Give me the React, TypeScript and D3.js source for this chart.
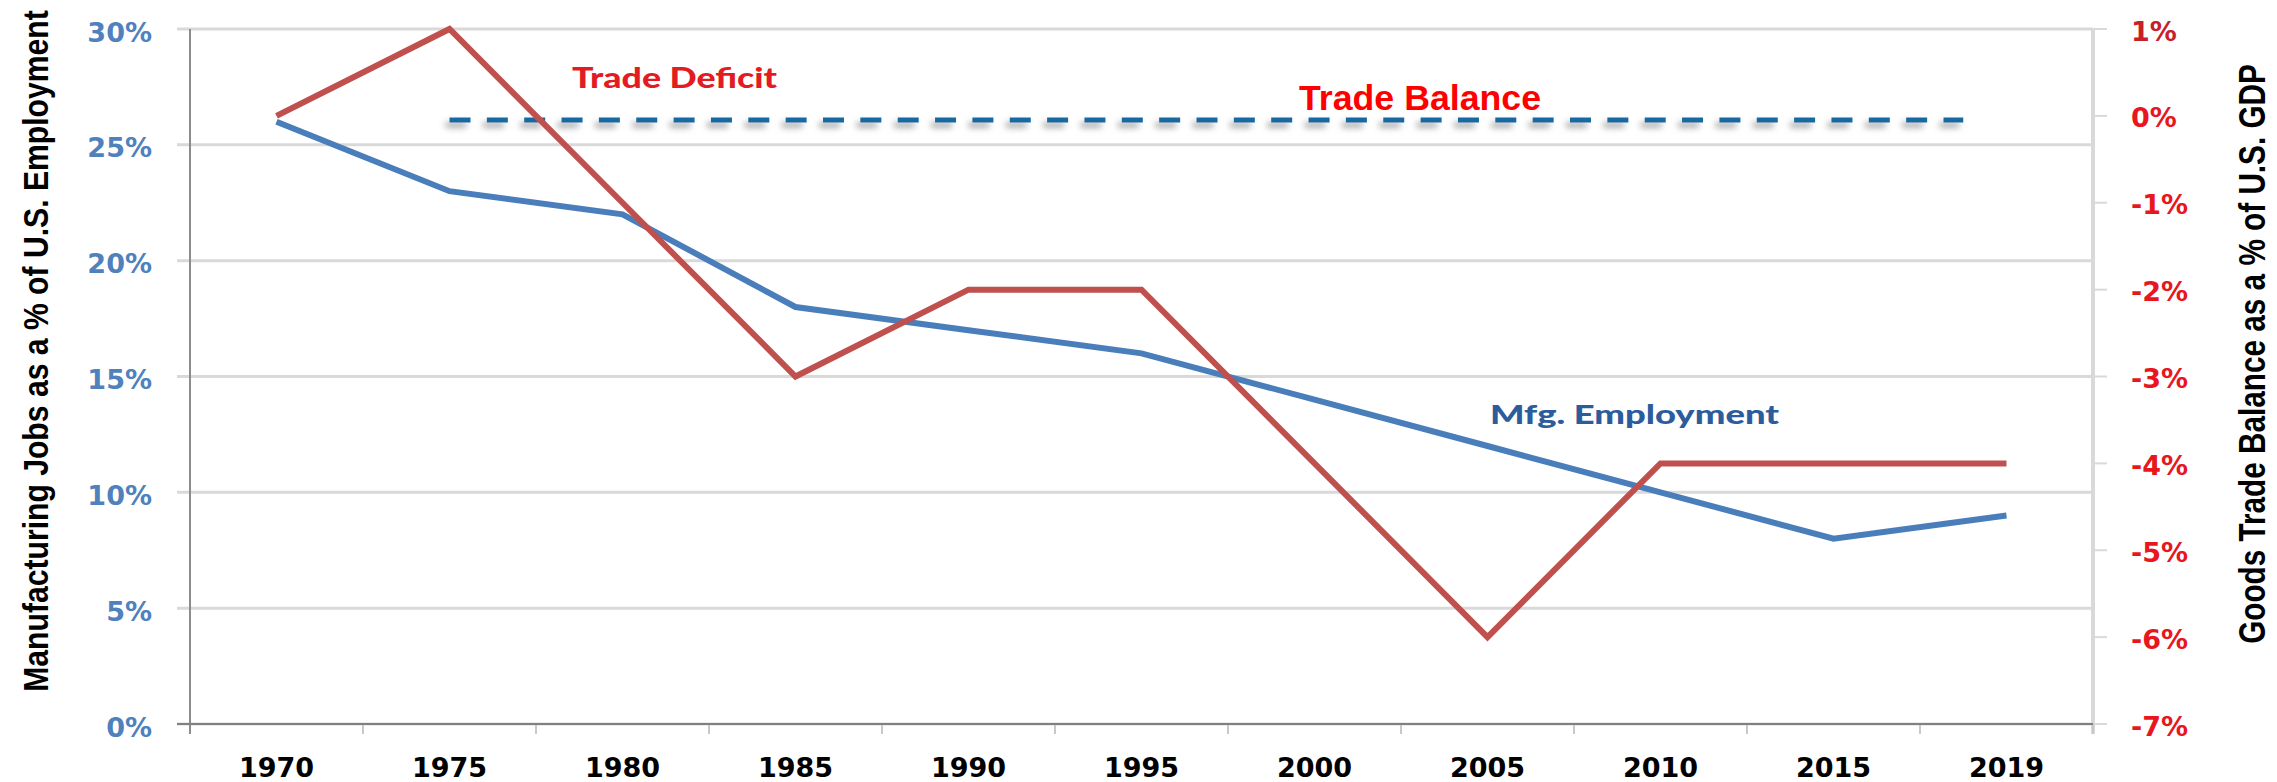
import { useEffect, useRef } from "react";
import * as d3 from "d3";

const years = ["1970", "1975", "1980", "1985", "1990", "1995", "2000", "2005", "2010", "2015", "2019"];
const mfgEmployment = [26, 23, 22, 18, 17, 16, 14, 12, 10, 8, 9];
const tradeBalance = [0, 1, -1, -3, -2, -2, -4, -6, -4, -4, -4];
const leftTicks = [0, 5, 10, 15, 20, 25, 30];
const rightTicks = [1, 0, -1, -2, -3, -4, -5, -6, -7];

export default function App() {
  const ref = useRef<SVGSVGElement>(null);

  useEffect(() => {
    const svg = d3.select(ref.current);
    svg.selectAll("*").remove();

    const width = 2277;
    const height = 782;
    const margin = { top: 29, right: 184, bottom: 58, left: 190 };
    const x0 = margin.left;
    const x1 = width - margin.right;
    const yTop = margin.top;
    const yBot = height - margin.bottom;

    const x = d3.scaleBand<string>().domain(years).range([x0, x1]).padding(0);
    const bw = x.bandwidth();
    const cx = (d: string) => (x(d) as number) + bw / 2;

    const yL = d3.scaleLinear().domain([0, 30]).range([yBot, yTop]);
    const yR = d3.scaleLinear().domain([-7, 1]).range([yBot, yTop]);

    // shadow for the trade balance dashes (user space, the line has no height)
    const defs = svg.append("defs");
    const f = defs
      .append("filter")
      .attr("id", "shadow")
      .attr("filterUnits", "userSpaceOnUse")
      .attr("x", 0)
      .attr("y", 0)
      .attr("width", width)
      .attr("height", height);
    f.append("feDropShadow")
      .attr("dx", -4)
      .attr("dy", 5)
      .attr("stdDeviation", 3)
      .attr("flood-color", "#777")
      .attr("flood-opacity", 0.7);

    // gridlines (they also act as the left outside ticks)
    svg
      .append("g")
      .selectAll("line")
      .data(leftTicks)
      .enter()
      .append("line")
      .attr("x1", x0 - 13)
      .attr("x2", x1)
      .attr("y1", (d) => yL(d))
      .attr("y2", (d) => yL(d))
      .attr("stroke", "#d9d9d9")
      .attr("stroke-width", 3);

    // right axis
    svg
      .append("line")
      .attr("x1", x1)
      .attr("x2", x1)
      .attr("y1", yTop)
      .attr("y2", yBot + 10)
      .attr("stroke", "#d9d9d9")
      .attr("stroke-width", 4);
    svg
      .append("g")
      .selectAll("line")
      .data(rightTicks)
      .enter()
      .append("line")
      .attr("x1", x1)
      .attr("x2", x1 + 14)
      .attr("y1", (d) => yR(d))
      .attr("y2", (d) => yR(d))
      .attr("stroke", "#d9d9d9")
      .attr("stroke-width", 2);

    // bottom ticks at band edges
    const edges = years.map((d) => x(d) as number).concat([x1]);
    svg
      .append("g")
      .selectAll("line")
      .data(edges)
      .enter()
      .append("line")
      .attr("x1", (d) => d)
      .attr("x2", (d) => d)
      .attr("y1", yBot)
      .attr("y2", yBot + 10)
      .attr("stroke", "#c8c8c8")
      .attr("stroke-width", 2);

    // left + bottom axis lines
    svg
      .append("line")
      .attr("x1", x0)
      .attr("x2", x0)
      .attr("y1", yTop)
      .attr("y2", yBot + 10)
      .attr("stroke", "#8c8c8c")
      .attr("stroke-width", 2);
    svg
      .append("line")
      .attr("x1", x0 - 13)
      .attr("x2", x1)
      .attr("y1", yBot)
      .attr("y2", yBot)
      .attr("stroke", "#808080")
      .attr("stroke-width", 2);

    // tick labels
    svg
      .append("g")
      .selectAll("text")
      .data(leftTicks)
      .enter()
      .append("text")
      .attr("x", 152)
      .attr("y", (d) => yL(d) + 3)
      .attr("text-anchor", "end")
      .attr("dominant-baseline", "central")
      .attr("font-family", "DejaVu Sans")
      .attr("font-weight", "bold")
      .attr("font-size", 27)
      .attr("fill", "#4f81bd")
      .text((d) => `${d}%`);

    svg
      .append("g")
      .selectAll("text")
      .data(rightTicks)
      .enter()
      .append("text")
      .attr("x", 2131)
      .attr("y", (d) => yR(d) + 2)
      .attr("text-anchor", "start")
      .attr("dominant-baseline", "central")
      .attr("font-family", "DejaVu Sans")
      .attr("font-weight", "bold")
      .attr("font-size", 27)
      .attr("fill", (d) => (d === 1 ? "#c8202a" : "#e8161d"))
      .text((d) => `${d}%`);

    svg
      .append("g")
      .selectAll("text")
      .data(years)
      .enter()
      .append("text")
      .attr("x", (d) => cx(d))
      .attr("y", 777)
      .attr("text-anchor", "middle")
      .attr("font-family", "DejaVu Sans")
      .attr("font-weight", "bold")
      .attr("font-size", 27)
      .attr("fill", "#000")
      .text((d) => d);

    // axis titles: condensed by measuring and scaling along the text
    const title = (label: string, cxT: number, cyT: number, len: number) => {
      const t = svg
        .append("text")
        .attr("text-anchor", "middle")
        .attr("dominant-baseline", "central")
        .attr("font-family", "Liberation Sans")
        .attr("font-weight", "bold")
        .attr("font-size", 36)
        .attr("fill", "#000")
        .text(label);
      const natural = (t.node() as SVGTextElement).getComputedTextLength() || len;
      t.attr("transform", `translate(${cxT},${cyT}) rotate(-90) scale(${len / natural},1)`);
    };
    title("Manufacturing Jobs as a % of U.S. Employment", 36, 351, 682);
    title("Goods Trade Balance as a % of U.S. GDP", 2252, 354, 580);

    // trade balance reference line (0%)
    svg
      .append("line")
      .attr("x1", cx("1975"))
      .attr("x2", cx("2019") - bw / 4)
      .attr("y1", yR(0) + 4)
      .attr("y2", yR(0) + 4)
      .attr("stroke", "#136aa1")
      .attr("stroke-width", 5)
      .attr("stroke-dasharray", "21 16.35")
      .attr("filter", "url(#shadow)");

    // series
    const empLine = d3
      .line<number>()
      .x((_, i) => cx(years[i]))
      .y((d) => yL(d));
    const tradeLine = d3
      .line<number>()
      .x((_, i) => cx(years[i]))
      .y((d) => yR(d));

    svg
      .append("path")
      .attr("d", empLine(mfgEmployment))
      .attr("fill", "none")
      .attr("stroke", "#4a7ebb")
      .attr("stroke-width", 6);

    svg
      .append("path")
      .attr("d", tradeLine(tradeBalance))
      .attr("fill", "none")
      .attr("stroke", "#c0504d")
      .attr("stroke-width", 6);

    // annotations
    svg
      .append("text")
      .attr("x", 572)
      .attr("y", 88)
      .attr("font-family", "Lato")
      .attr("font-weight", 900)
      .attr("font-size", 28)
      .attr("textLength", 205)
      .attr("lengthAdjust", "spacingAndGlyphs")
      .attr("fill", "#e31b23")
      .text("Trade Deficit");

    svg
      .append("text")
      .attr("x", 1299)
      .attr("y", 110)
      .attr("font-family", "Liberation Sans")
      .attr("font-weight", "bold")
      .attr("font-size", 35)
      .attr("textLength", 242)
      .attr("lengthAdjust", "spacingAndGlyphs")
      .attr("fill", "#ff0000")
      .text("Trade Balance");

    svg
      .append("text")
      .attr("x", 1490)
      .attr("y", 424)
      .attr("font-family", "Lato")
      .attr("font-weight", 900)
      .attr("font-size", 26)
      .attr("textLength", 289)
      .attr("lengthAdjust", "spacingAndGlyphs")
      .attr("fill", "#2c5c9c")
      .text("Mfg. Employment");
  }, []);

  return (
    <svg
      ref={ref}
      width={2277}
      height={782}
      style={{ position: "absolute", left: 0, top: 0, background: "#fff" }}
    ></svg>
  );
}
